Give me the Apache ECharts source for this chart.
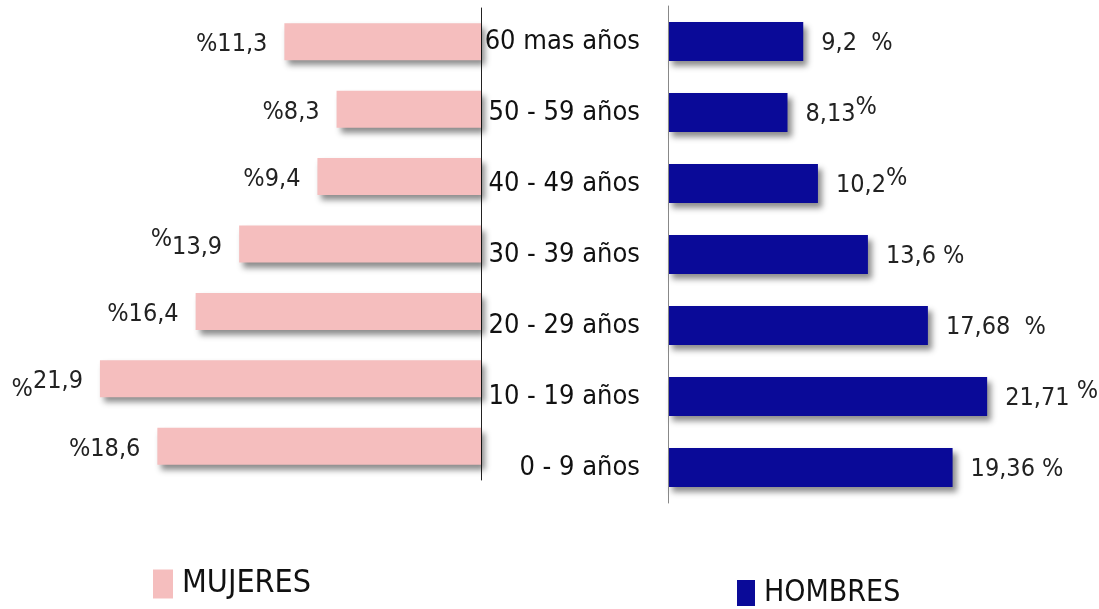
<!DOCTYPE html>
<html>
<head>
<meta charset="utf-8">
<script src="https://cdn.jsdelivr.net/npm/echarts@6/dist/echarts.min.js"></script>
<style>
html, body { margin: 0; padding: 0; background: #fff; }
#chart { width: 1099px; height: 609px; }
</style>
</head>
<body>
<div id="chart"></div>
<script>
// grupos de edad, de arriba hacia abajo
const grupos = ['60 mas años', '50 - 59 años', '40 - 49 años', '30 - 39 años', '20 - 29 años', '10 - 19 años', '0 - 9 años'];
const mujeres = [11.3, 8.3, 9.4, 13.9, 16.4, 21.9, 18.6];
const hombres = [9.2, 8.13, 10.2, 13.6, 17.68, 21.71, 19.36];
// textos de las etiquetas tal como salen en la imagen
const etiquetasMujeres = ['{n|%11,3}', '{n|%8,3}', '{n|%9,4}', '{u|%}{n|13,9}', '{n|%16,4}', '{d|%}{n|21,9}', '{n|%18,6}'];
const etiquetasHombres = ['{n|9,2  %}', '{n|8,13}{u|%}', '{n|10,2}{u|%}', '{n|13,6 %}', '{n|17,68  %}', '{n|21,71 }{u|%}', '{n|19,36 %}'];

const fuente = "'Liberation Sans Narrow', 'DejaVu Sans Condensed', sans-serif";
const richTxt = {
  n: { fontFamily: fuente, fontSize: 25, color: '#222', lineHeight: 40, verticalAlign: 'middle' },
  u: { fontFamily: fuente, fontSize: 25, color: '#222', lineHeight: 40, verticalAlign: 'top' },
  d: { fontFamily: fuente, fontSize: 25, color: '#222', lineHeight: 40, verticalAlign: 'bottom' }
};
const sombra = {
  shadowColor: 'rgba(0,0,0,0.45)',
  shadowBlur: 6,
  shadowOffsetX: 4,
  shadowOffsetY: 5
};

const chart = echarts.init(document.getElementById('chart'));

const option = {
  animation: false,
  backgroundColor: '#fff',
  grid: [
    { left: 46, right: 618, top: 8, height: 472 },
    { left: 668, right: 63.5, top: 6, height: 497 }
  ],
  legend: [
    {
      data: ['MUJERES'],
      left: 153, top: 568, padding: 0,
      icon: 'rect', itemWidth: 20, itemHeight: 29,
      itemStyle: { shadowBlur: 0, shadowOffsetX: 0, shadowOffsetY: 0 },
      textStyle: { fontFamily: fuente, fontSize: 32, color: '#111', padding: [0, 0, 0, 4] }
    },
    {
      data: ['HOMBRES'],
      left: 737, top: 578, padding: 0,
      icon: 'rect', itemWidth: 18, itemHeight: 26,
      itemStyle: { shadowBlur: 0, shadowOffsetX: 0, shadowOffsetY: 0 },
      textStyle: { fontFamily: fuente, fontSize: 30, color: '#111', padding: [0, 0, 0, 4] }
    }
  ],
  xAxis: [
    { type: 'value', gridIndex: 0, min: 0, max: 25, inverse: true, show: false },
    { type: 'value', gridIndex: 1, min: 0, max: 25, show: false }
  ],
  yAxis: [
    {
      type: 'category', gridIndex: 0, data: grupos, inverse: true, position: 'right',
      axisLine: { show: true, onZero: false, lineStyle: { color: '#222', width: 1 } },
      axisTick: { show: false }, axisLabel: { show: false }, splitLine: { show: false }
    },
    {
      type: 'category', gridIndex: 1, data: grupos, inverse: true, position: 'left', z: 5,
      axisLine: { show: true, onZero: false, lineStyle: { color: '#888', width: 1 } },
      axisTick: { show: false }, splitLine: { show: false },
      axisLabel: { show: true, margin: 28, fontFamily: fuente, fontSize: 27, color: '#111' }
    }
  ],
  series: [
    {
      name: 'MUJERES', type: 'bar', xAxisIndex: 0, yAxisIndex: 0,
      data: mujeres, barWidth: 37,
      itemStyle: Object.assign({ color: '#F5BEBE' }, sombra),
      label: {
        show: true, position: 'left', distance: 17, offset: [0, 3],
        formatter: p => etiquetasMujeres[p.dataIndex],
        rich: richTxt
      }
    },
    {
      name: 'HOMBRES', type: 'bar', xAxisIndex: 1, yAxisIndex: 1,
      data: hombres, barWidth: 39,
      itemStyle: Object.assign({ color: '#0A0A98' }, sombra),
      label: {
        show: true, position: 'right', distance: 18, offset: [0, 2],
        formatter: p => etiquetasHombres[p.dataIndex],
        rich: richTxt
      }
    }
  ]
};

chart.setOption(option);
</script>
</body>
</html>
